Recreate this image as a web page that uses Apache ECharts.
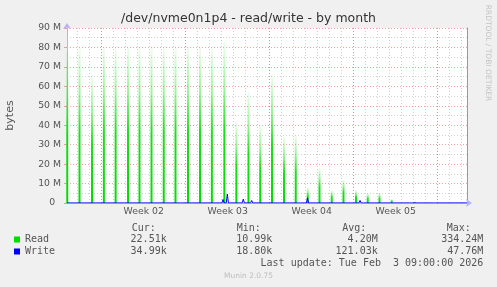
<!DOCTYPE html>
<html>
<head>
<meta charset="utf-8">
<script src="https://cdn.jsdelivr.net/npm/echarts@6/dist/echarts.min.js"></script>
<style>
html,body{margin:0;padding:0;background:#f0f0f0;}
#c{width:497px;height:287px;}
</style>
</head>
<body>
<div id="c"></div>
<script>
// ---- data (x in days, 0 = start of "Week 02"; y in M bytes) ----
const titleText = '/dev/nvme0n1p4 - read/write - by month';
const yTickLabels = ['0  ', '10 M', '20 M', '30 M', '40 M', '50 M', '60 M', '70 M', '80 M', '90 M'];
const weekLabels = ['Week 02', 'Week 03', 'Week 04', 'Week 05'];

const readDays  = [-2.87, -1.85, -0.81, 0.18, 1.16, 2.19, 3.15, 4.15, 5.17, 6.15, 7.19, 8.19, 9.18,
                   10.22, 11.22, 12.23, 13.21, 14.19, 15.19, 16.17, 17.17, 18.15, 19.17, 20.15, 21.19,
                   22.17, 23.15, 24.17, 26.07];
const readPeaks = [78, 80, 66, 80, 80, 80, 80, 80, 80, 80, 80, 80, 80,
                   83, 42, 57, 40, 66, 34, 35, 8, 18, 6.5, 12, 6.5,
                   5, 5.2, 2, 0.6];

const writeDays = [3.13, 6.67, 10.11, 10.47, 11.8, 12.5, 13.53, 14.73, 15.08, 16.47, 17.15, 21.05, 21.53, 21.9, 24.17, 25.73, 27.72];
const writeVals = [1, 0.5, 1.8, 4.6, 2, 1.3, 1, 0.5, 0.4, 0.4, 2.7, 1, 1.3, 0.5, 1, 0.8, 0.5];
const writeBase = 0.035;

const legendNames = ['Read', 'Write'];
const statHeaders = ['Cur:', 'Min:', 'Avg:', 'Max:'];
const readStats  = ['22.51k', '10.99k', '4.20M', '334.24M'];
const writeStats = ['34.99k', '18.80k', '121.03k', '47.76M'];
const lastUpdate = 'Last update: Tue Feb  3 09:00:00 2026';
const footer = 'Munin 2.0.75';
const sideText = 'RRDTOOL / TOBI OETIKER';

// ---- chart ----
const DAY_MIN = -2.892, DAY_MAX = 30.442;
const green = '#00dd00', blue = '#0000ff';
const redGrid = 'rgba(225,90,90,0.55)', grayGrid = 'rgba(140,140,140,0.4)';
const axisCol = '#b4b4f4';
const txt = '#555';

const readData = readDays.map((d, i) => [d, readPeaks[i]]);
const writeData = [[DAY_MIN, writeBase]];
writeDays.forEach((d, i) => {
  writeData.push([d - 0.09, writeBase], [d, writeVals[i]], [d + 0.09, writeBase]);
});
writeData.push([DAY_MAX, writeBase]);

const chart = echarts.init(document.getElementById('c'), null, {renderer: 'canvas', width: 497, height: 287});

const mono = '10px "DejaVu Sans Mono"';
const colStart = [131.7, 236.7, 342.3, 446.7];
const colEnd = [166.7, 272.3, 377.7, 483.3];
const graphics = [];
statHeaders.forEach((h, i) => {
  graphics.push({type: 'text', x: colStart[i], y: 228.5, silent: true,
    style: {text: h, font: mono, fill: txt, align: 'left', verticalAlign: 'middle'}});
  graphics.push({type: 'text', x: colEnd[i], y: 239.5, silent: true,
    style: {text: readStats[i], font: mono, fill: txt, align: 'right', verticalAlign: 'middle'}});
  graphics.push({type: 'text', x: colEnd[i], y: 251.5, silent: true,
    style: {text: writeStats[i], font: mono, fill: txt, align: 'right', verticalAlign: 'middle'}});
});
graphics.push({type: 'text', x: 483.3, y: 263.7, silent: true,
  style: {text: lastUpdate, font: mono, fill: txt, align: 'right', verticalAlign: 'middle'}});
graphics.push({type: 'text', x: 248.5, y: 276, silent: true,
  style: {text: footer, font: '7.5px "DejaVu Sans"', fill: '#bdbdbd', align: 'center', verticalAlign: 'middle'}});
graphics.push({type: 'text', x: 488, y: 53, rotation: -Math.PI / 2, silent: true,
  style: {text: sideText, font: '7.5px "DejaVu Sans"', fill: '#c4c4c4', align: 'center', verticalAlign: 'middle'}});

const option = {
  animation: false,
  backgroundColor: '#f0f0f0',
  textStyle: {fontFamily: 'DejaVu Sans'},
  title: {
    text: titleText, left: 'center', top: 12, padding: 0,
    textStyle: {fontFamily: 'DejaVu Sans', fontSize: 12.5, fontWeight: 'normal', color: '#333'}
  },
  grid: {left: 67, top: 28, width: 400, height: 175, show: true, backgroundColor: '#ffffff',
         borderWidth: 0, containLabel: false, outerBoundsMode: 'none'},
  legend: {
    orient: 'vertical', left: 14, top: 233.5, itemWidth: 6, itemHeight: 6, itemGap: 0, icon: 'rect',
    selectedMode: false, padding: 0,
    textStyle: {fontFamily: 'DejaVu Sans Mono', fontSize: 10, color: txt, lineHeight: 12},
    data: [{name: legendNames[0], itemStyle: {color: green}}, {name: legendNames[1], itemStyle: {color: blue}}]
  },
  xAxis: [
    {
      type: 'value', position: 'bottom', min: DAY_MIN, max: DAY_MAX, minInterval: 1, maxInterval: 1, splitNumber: 33,
      axisLine: {show: true, onZero: false, lineStyle: {color: axisCol, width: 1},
                 symbol: ['none', 'arrow'], symbolSize: [6, 6], symbolOffset: [0, 5]},
      axisTick: {show: false}, axisLabel: {show: false},
      splitLine: {show: true, showMinLine: false, showMaxLine: false, lineStyle: {color: grayGrid, type: [1, 2], width: 1}}
    },
    {
      type: 'value', position: 'top', min: DAY_MIN / 7, max: DAY_MAX / 7, minInterval: 1, maxInterval: 1,
      axisLine: {show: false, onZero: false}, axisTick: {show: false}, axisLabel: {show: false},
      splitLine: {show: true, showMinLine: false, showMaxLine: false, lineStyle: {color: redGrid, type: [1, 2], width: 1}}
    },
    {
      type: 'value', position: 'bottom', min: DAY_MIN / 7 + 0.5, max: DAY_MAX / 7 + 0.5, minInterval: 1, maxInterval: 1,
      axisLine: {show: false, onZero: false}, axisTick: {show: false}, splitLine: {show: false},
      axisLabel: {
        show: true, margin: 4, color: txt, fontSize: 9.3, fontFamily: 'DejaVu Sans',
        showMinLabel: false, showMaxLabel: false,
        formatter: v => {
          const k = Math.round(v);
          return (Math.abs(v - k) < 1e-6 && weekLabels[k - 1]) ? weekLabels[k - 1] : '';
        }
      }
    }
  ],
  yAxis: [
    {
      type: 'value', position: 'left', min: 0, max: 90, interval: 10,
      axisLine: {show: true, onZero: false, lineStyle: {color: axisCol, width: 1},
                 symbol: ['none', 'arrow'], symbolSize: [6, 6], symbolOffset: [0, 5]},
      axisTick: {show: true, length: 3, lineStyle: {color: redGrid}},
      axisLabel: {color: txt, fontSize: 9.3, fontFamily: 'DejaVu Sans', margin: 6,
                  formatter: v => yTickLabels[Math.round(v / 10)]},
      splitLine: {show: true, showMinLine: false, lineStyle: {color: redGrid, type: [1, 2], width: 1}},
      minorTick: {show: false, splitNumber: 2},
      minorSplitLine: {show: true, lineStyle: {color: grayGrid, type: [1, 2], width: 1}},
      name: 'bytes', nameLocation: 'middle', nameGap: 51,
      nameTextStyle: {color: txt, fontSize: 11, fontFamily: 'DejaVu Sans'}
    },
    {
      type: 'value', position: 'right', min: 0, max: 90,
      axisLine: {show: true, onZero: false, lineStyle: {color: '#9a9a9a', width: 1}},
      axisTick: {show: false}, axisLabel: {show: false}, splitLine: {show: false}
    }
  ],
  series: [
    {
      name: legendNames[0], type: 'bar', xAxisIndex: 0, yAxisIndex: 0, data: readData, barWidth: 2, z: 3,
      itemStyle: {color: new echarts.graphic.LinearGradient(0, 0, 0, 1, [
        {offset: 0, color: 'rgba(0,221,0,0.06)'},
        {offset: 0.3, color: 'rgba(0,221,0,0.4)'},
        {offset: 0.55, color: 'rgba(0,221,0,0.9)'},
        {offset: 1, color: green}
      ])}
    },
    {
      name: legendNames[1], type: 'line', xAxisIndex: 0, yAxisIndex: 0, data: writeData, z: 4,
      showSymbol: false, symbol: 'none', lineStyle: {color: blue, width: 1}, itemStyle: {color: blue}
    }
  ],
  graphic: graphics
};
chart.setOption(option);
</script>
</body>
</html>
